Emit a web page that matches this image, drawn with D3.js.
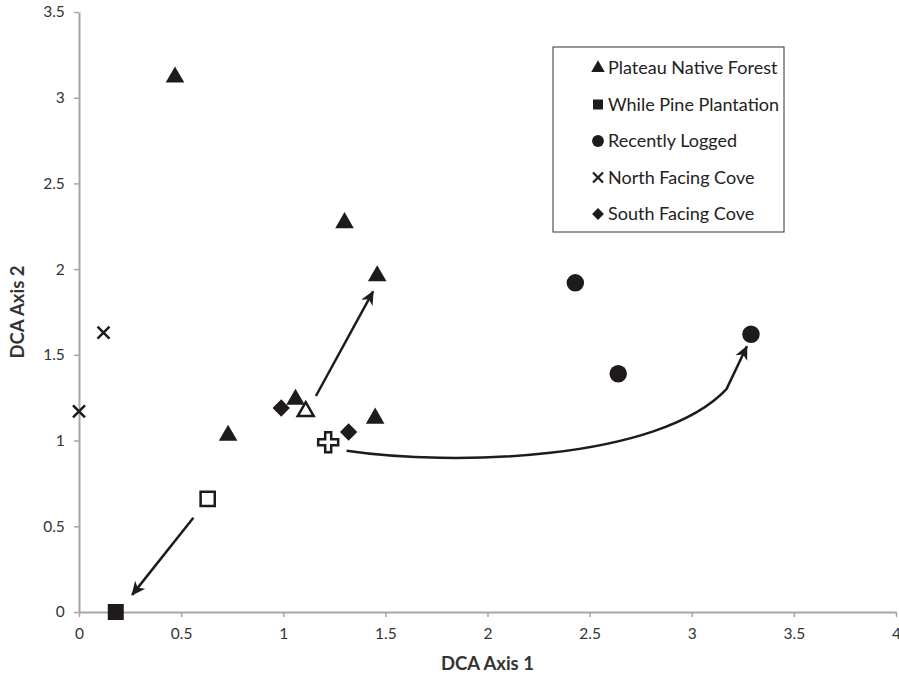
<!DOCTYPE html>
<html>
<head>
<meta charset="utf-8">
<script src="https://cdn.jsdelivr.net/npm/d3@7"></script>
<style>
  body { margin: 0; background: #fff; }
  svg text { font-family: Lato, "Open Sans", sans-serif; }
</style>
</head>
<body>
<div id="chart"></div>
<script>
// series
const plateau = [[0.47, 3.12], [1.30, 2.27], [1.46, 1.96], [1.06, 1.24], [0.73, 1.03], [1.45, 1.13]]
const pine = [[0.18, 0.0]]
const logged = [[2.43, 1.92], [2.64, 1.39], [3.29, 1.62]]
const northCove = [[0.12, 1.63], [0.0, 1.17]]
const southCove = [[0.99, 1.19], [1.32, 1.05]]
// open (centroid) markers
const plateauMean = [[1.11, 1.17]]
const pineMean = [[0.63, 0.66]]
const overallMean = [[1.22, 0.99]]
// arrows: [from, to] ; curved one = start, two control points, knee, tip
const straightArrows = [[[0.56, 0.55], [0.26, 0.10]], [[1.16, 1.26], [1.44, 1.87]]]
const curvedArrow = [[1.31, 0.94], [1.82, 0.85], [2.84, 0.88], [3.17, 1.30], [3.27, 1.55]]

const xTicks = [0, 0.5, 1, 1.5, 2, 2.5, 3, 3.5, 4]
const yTicks = [0, 0.5, 1, 1.5, 2, 2.5, 3, 3.5]
const legendItems = ['Plateau Native Forest', 'While Pine Plantation', 'Recently Logged', 'North Facing Cove', 'South Facing Cove']

const W = 899, H = 676
const margin = {top: 12, right: 3, bottom: 64, left: 79}
const ink = '#1f1a1b'

const svg = d3.select('#chart').append('svg')
    .attr('width', W)
    .attr('height', H)

const x = d3.scaleLinear().domain([0, 4]).range([margin.left, W - margin.right])
const y = d3.scaleLinear().domain([0, 3.5]).range([H - margin.bottom, margin.top])

// axes
const xAxis = d3.axisBottom(x).tickValues(xTicks).tickFormat(d3.format('')).tickSize(5).tickSizeOuter(0)
const yAxis = d3.axisLeft(y).tickValues(yTicks).tickFormat(d3.format('')).tickSize(5).tickSizeOuter(0)

const gx = svg.append('g').attr('transform', 'translate(0,' + y(0) + ')').call(xAxis)
const gy = svg.append('g').attr('transform', 'translate(' + x(0) + ',0)').call(yAxis)

for (const g of [gx, gy]) {
    g.select('.domain').attr('stroke', '#a6a6a6').attr('stroke-width', 2)
    g.selectAll('.tick line').attr('stroke', '#a6a6a6').attr('stroke-width', 1.5)
    g.selectAll('.tick text').attr('fill', '#333').style('font-size', '15.5px')
}
gx.selectAll('.tick text').attr('dy', '1.25em')
gy.selectAll('.tick text').attr('dx', '-0.4em')

svg.append('text')
    .attr('x', x(2)).attr('y', 670)
    .attr('text-anchor', 'middle')
    .style('font-size', '18.5px').style('font-weight', 'bold').attr('fill', '#333')
    .text('DCA Axis 1')

svg.append('text')
    .attr('transform', 'translate(24,' + y(1.75) + ') rotate(-90)')
    .attr('text-anchor', 'middle')
    .style('font-size', '18.5px').style('font-weight', 'bold').attr('fill', '#333')
    .text('DCA Axis 2')

// arrow head
svg.append('defs').append('marker')
    .attr('id', 'head')
    .attr('viewBox', '-14 -8 16 16')
    .attr('markerWidth', 16).attr('markerHeight', 16)
    .attr('markerUnits', 'userSpaceOnUse')
    .attr('refX', 0).attr('refY', 0)
    .attr('orient', 'auto')
    .append('path')
    .attr('d', 'M1,0 L-13,-6.5 L-9,0 L-13,6.5 Z')
    .attr('fill', ink)

const line = d3.line().x(d => x(d[0])).y(d => y(d[1]))
svg.selectAll('.arrow').data(straightArrows).join('path')
    .attr('class', 'arrow')
    .attr('d', line)
    .attr('fill', 'none').attr('stroke', ink).attr('stroke-width', 2.5)
    .attr('marker-end', 'url(#head)')

const c = curvedArrow.map(p => [x(p[0]), y(p[1])])
svg.append('path')
    .attr('d', 'M' + c[0] + 'C' + c[1] + ' ' + c[2] + ' ' + c[3] + 'L' + c[4])
    .attr('fill', 'none').attr('stroke', ink).attr('stroke-width', 2.5)
    .attr('stroke-linejoin', 'round')
    .attr('marker-end', 'url(#head)')

// marker shapes
const tri = d3.symbol(d3.symbolTriangle, 150)()
const sq = d3.symbol(d3.symbolSquare, 256)()
const circ = d3.symbol(d3.symbolCircle, 240)()
const dia = d3.symbol(d3.symbolSquare, 150)()
const xMark = 'M-6,-6L6,6M-6,6L6,-6'
const plus = 'M-3,-10H3V-3H10V3H3V10H-3V3H-10V-3H-3Z'

function pts(data, path, opts) {
    svg.append('g').selectAll('path').data(data).join('path')
        .attr('transform', d => 'translate(' + x(d[0]) + ',' + y(d[1]) + ')' + (opts.rot ? ' rotate(45)' : ''))
        .attr('d', path)
        .attr('fill', opts.fill || 'none')
        .attr('stroke', opts.stroke || 'none')
        .attr('stroke-width', opts.sw || 0)
}

pts(plateau, tri, {fill: ink})
pts(pine, sq, {fill: ink})
pts(logged, circ, {fill: ink})
pts(northCove, xMark, {stroke: ink, sw: 2.5})
pts(southCove, dia, {fill: ink, rot: true})
pts(plateauMean, d3.symbol(d3.symbolTriangle, 110)(), {fill: '#fff', stroke: ink, sw: 2.5})
pts(pineMean, d3.symbol(d3.symbolSquare, 200)(), {fill: '#fff', stroke: ink, sw: 2.5})
pts(overallMean, plus, {fill: '#fff', stroke: ink, sw: 2.5})

// legend
const lg = svg.append('g').attr('transform', 'translate(553,47)')
lg.append('rect').attr('width', 231).attr('height', 185)
    .attr('fill', '#fff').attr('stroke', '#333').attr('stroke-width', 1)
const legendShapes = [
    {d: d3.symbol(d3.symbolTriangle, 80)(), fill: ink},
    {d: d3.symbol(d3.symbolSquare, 100)(), fill: ink},
    {d: d3.symbol(d3.symbolCircle, 110)(), fill: ink},
    {d: 'M-5,-5L5,5M-5,5L5,-5', stroke: ink, sw: 2.2},
    {d: d3.symbol(d3.symbolSquare, 70)(), fill: ink, rot: true}
]
const rows = lg.selectAll('.row').data(legendItems).join('g')
    .attr('class', 'row')
    .attr('transform', (d, i) => 'translate(0,' + (21 + i * 36.5) + ')')
rows.append('path')
    .attr('transform', (d, i) => 'translate(45,0)' + (legendShapes[i].rot ? ' rotate(45)' : ''))
    .attr('d', (d, i) => legendShapes[i].d)
    .attr('fill', (d, i) => legendShapes[i].fill || 'none')
    .attr('stroke', (d, i) => legendShapes[i].stroke || 'none')
    .attr('stroke-width', (d, i) => legendShapes[i].sw || 0)
rows.append('text')
    .attr('x', 55).attr('dy', '0.36em')
    .style('font-size', '18px').attr('fill', '#222')
    .text(d => d)
</script>
</body>
</html>
